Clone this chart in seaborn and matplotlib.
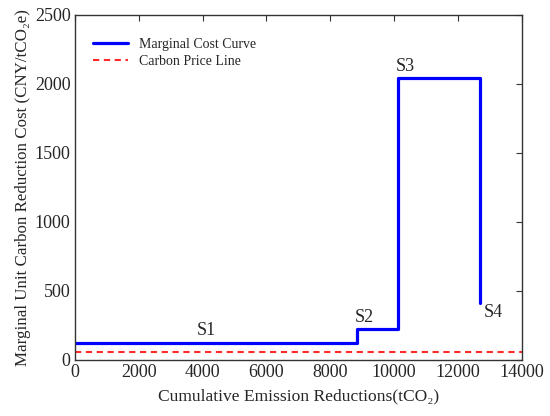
import matplotlib
matplotlib.use("Agg")
import matplotlib.pyplot as plt
import seaborn as sns
import pandas as pd

# step segments of the marginal cost curve
seg_labels = ["S1", "S2", "S3", "S4"]
seg_edges = [0, 8850, 10120, 12680]       # cumulative reductions where each step starts/ends
seg_costs = [120, 225, 2040]              # cost level of S1..S3
end_cost = 410                            # curve drops to here at S4
carbon_price = 60
price_x = [0, 14000]

# build the step path
xs, ys = [], []
for i, c in enumerate(seg_costs):
    xs += [seg_edges[i], seg_edges[i + 1]]
    ys += [c, c]
xs.append(seg_edges[-1])
ys.append(end_cost)
curve = pd.DataFrame({"x": xs, "y": ys})
price = pd.DataFrame({"x": price_x, "y": [carbon_price] * 2})

sns.set_theme(style="white")
plt.rcParams["font.family"] = ["Liberation Serif", "DejaVu Serif"]

fig = plt.figure(figsize=(5.5, 4.16), dpi=100)
ax = fig.add_axes([0.136, 0.135, 0.813, 0.829])

sns.lineplot(data=curve, x="x", y="y", sort=False, estimator=None, color="#0000ff",
             linewidth=2.3, label="Marginal Cost Curve", ax=ax)
sns.lineplot(data=price, x="x", y="y", sort=False, estimator=None, color="#ff2a2a",
             linewidth=1.5, linestyle=(0, (3, 2.2)), label="Carbon Price Line", ax=ax)

# step labels
label_pos = [(4130, 215), (9050, 305), (10350, 2130), (13100, 340)]
for lab, (lx, ly) in zip(seg_labels, label_pos):
    ax.text(lx, ly, lab, fontsize=13, ha="center", va="center")

ax.set_xlim(0, 14000)
ax.set_ylim(0, 2500)
ax.set_xticks(range(0, 14001, 2000))
ax.set_yticks(range(0, 2501, 500))
ax.tick_params(direction="in", length=4, top=True, right=True, labelsize=13,
               color="#333333", width=0.8, pad=3)
for s in ax.spines.values():
    s.set_color("#333333")
    s.set_linewidth(1.0)

ax.set_xlabel("Cumulative Emission Reductions(tCO\u2082)", fontsize=12.6, labelpad=5)
ax.set_ylabel("Marginal Unit Carbon Reduction Cost (CNY/tCO\u2082e)", fontsize=12.2, labelpad=3)

leg = ax.legend(loc="upper left", frameon=False, fontsize=10, bbox_to_anchor=(0.02, 0.962),
                handlelength=2.5, borderaxespad=0.3, labelspacing=0.3)

fig.savefig("out.png", dpi=100)
